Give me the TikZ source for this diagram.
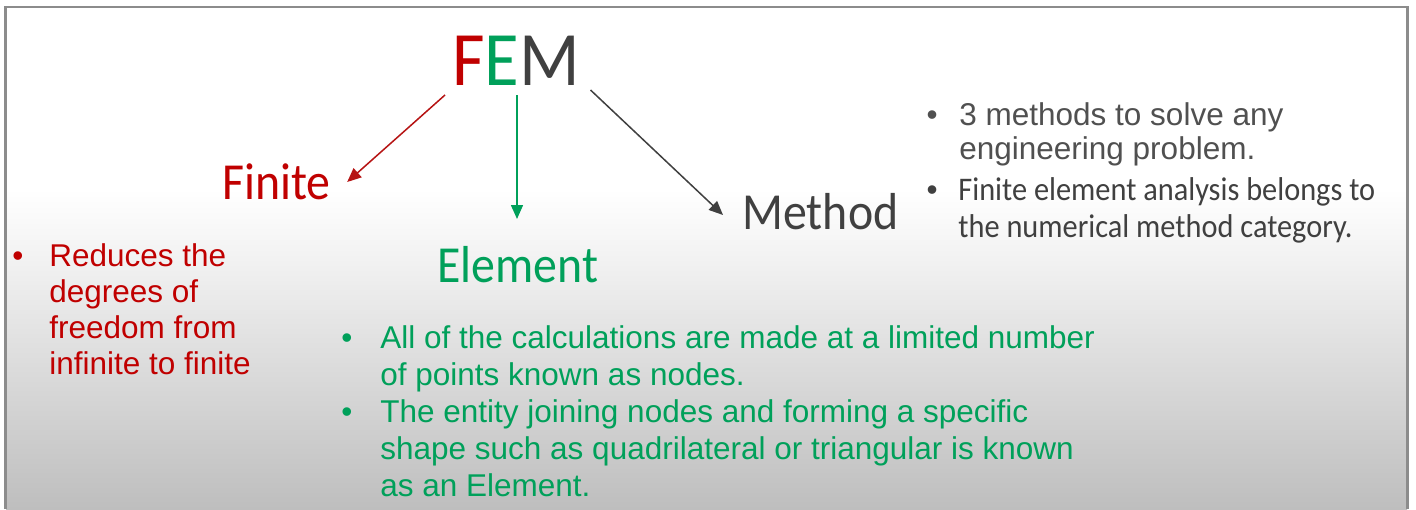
\documentclass[tikz,border=0pt]{standalone}
\usepackage{fontspec}
\setmainfont{Liberation Sans}
\newfontfamily\calib[FakeStretch=0.92]{Carlito}
\usetikzlibrary{arrows.meta}
\definecolor{femred}{RGB}{192,0,0}
\definecolor{femgreen}{RGB}{0,160,90}
\definecolor{femgrey}{RGB}{64,64,64}
\definecolor{txtgrey}{RGB}{80,80,80}
\definecolor{framegrey}{RGB}{140,140,140}
\definecolor{bgbot}{RGB}{190,190,190}
\definecolor{bgmid}{RGB}{242,242,242}
\pgfdeclareverticalshading{slidebg}{100bp}{color(0bp)=(bgbot); color(25bp)=(bgbot); color(50bp)=(bgmid); color(57bp)=(white); color(100bp)=(white)}
\begin{document}
\begin{tikzpicture}[x=0.5pt,y=-0.5pt,
  lbl/.style={inner sep=0pt, anchor=base west},
  bul/.style={inner sep=0pt, anchor=base, font=\fontsize{15.75}{18}\selectfont},
  femfont/.style={font=\calib\fontsize{38.5}{42}\selectfont},
  labfont/.style={font=\calib\fontsize{26}{30}\selectfont},
  bodyfont/.style={font=\fontsize{15.75}{18}\selectfont},
  calfont/.style={font=\calib\fontsize{16.5}{19}\selectfont},
  arr/.style={line width=0.75pt, -{Triangle[length=7pt,width=6pt]}}]
\useasboundingbox (0,0) rectangle (1416,509);
% background and frame
\shade[shading=slidebg] (6,8) rectangle (1407,509);
\draw[framegrey, line width=1.2pt] (5.5,509) -- (5.5,7) -- (1407.5,7) -- (1407.5,509);
% title and labels
\node[lbl, femfont] (fem) at (452,85) {\textcolor{femred}{F}\textcolor{femgreen}{E}\textcolor{femgrey}{M}};
\node[lbl, labfont, text=femred] (finite) at (222,199) {Finite};
\node[lbl, labfont, text=femgreen] (element) at (437,282) {Element};
\node[lbl, labfont, text=femgrey] (method) at (742,229) {Method};
% arrows
\draw[arr, draw=femred!85!gray, fill=femred] ([shift={(-7,10)}]fem.base west) -- ([shift={(16,-17)}]finite.base east);
\draw[arr, draw=femgreen, fill=femgreen] ([shift={(65,10)}]fem.base west) -- ([shift={(80,-63)}]element.base west);
\draw[arr, draw=femgrey, fill=femgrey] ([shift={(10,5)}]fem.base east) -- ([shift={(-19,-14)}]method.base west);
% left red bullet
\node[bul, text=femred] (rb) at (18,266) {•};
\node[lbl, bodyfont, text=femred] (r1) at (49,266) {Reduces the};
\node[lbl, bodyfont, text=femred] (r2) at (49,302) {degrees of};
\node[lbl, bodyfont, text=femred] (r3) at (49,338) {freedom from};
\node[lbl, bodyfont, text=femred] (r4) at (49,374) {infinite to finite};
% green bullets
\node[bul, text=femgreen] (gb1) at (347,348) {•};
\node[lbl, bodyfont, text=femgreen] (g1) at (380,348) {All of the calculations are made at a limited number};
\node[lbl, bodyfont, text=femgreen] (g2) at (380,385) {of points known as nodes.};
\node[bul, text=femgreen] (gb2) at (347,422) {•};
\node[lbl, bodyfont, text=femgreen] (g3) at (380,422) {The entity joining nodes and forming a specific};
\node[lbl, bodyfont, text=femgreen] (g4) at (380,459) {shape such as quadrilateral or triangular is known};
\node[lbl, bodyfont, text=femgreen] (g5) at (380,496) {as an Element.};
% right grey bullets
\node[bul, text=txtgrey] (mb1) at (932,125) {•};
\node[lbl, bodyfont, text=txtgrey] (m1) at (959,125) {3 methods to solve any};
\node[lbl, bodyfont, text=txtgrey] (m2) at (959,159) {engineering problem.};
\node[bul, text=femgrey] (mb2) at (932,200) {•};
\node[lbl, calfont, text=femgrey] (c1) at (958,200) {Finite element analysis belongs to};
\node[lbl, calfont, text=femgrey] (c2) at (958,237) {the numerical method category.};
\end{tikzpicture}
\end{document}
